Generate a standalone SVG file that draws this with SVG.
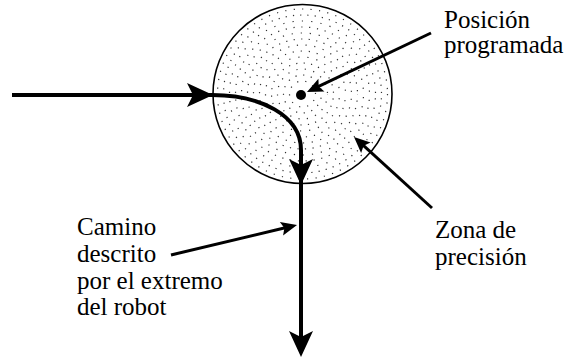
<svg xmlns="http://www.w3.org/2000/svg" width="569" height="359" viewBox="0 0 569 359">
  <defs>
    <marker id="bigArrow" viewBox="-10 -13 30 26" markerWidth="30" markerHeight="26" refX="0" refY="0" orient="auto" markerUnits="userSpaceOnUse">
      <path d="M18,0 L-8,-12 L-2,0 L-8,12 Z" fill="#000"/>
    </marker>
    <marker id="smallArrow" viewBox="-8 -8 20 16" markerWidth="20" markerHeight="16" refX="0" refY="0" orient="auto" markerUnits="userSpaceOnUse">
      <path d="M10,0 L-6,-7 L-3,0 L-6,7 Z" fill="#000"/>
    </marker>
  </defs>

  <g id="zona">
    <circle cx="302.5" cy="94" r="89.5" fill="#fff" stroke="#000" stroke-width="1.6"/>
    <g fill="none" stroke="#333" stroke-width="1.2">
      <circle cx="302.5" cy="94" r="85" stroke-dasharray="1.2 7.3"/>
      <circle cx="302.5" cy="94" r="79" stroke-dasharray="1.2 6.1" stroke-dashoffset="3"/>
      <circle cx="302.5" cy="94" r="73" stroke-dasharray="1.2 8.2" stroke-dashoffset="5"/>
      <circle cx="302.5" cy="94" r="67" stroke-dasharray="1.2 6.7" stroke-dashoffset="2"/>
      <circle cx="302.5" cy="94" r="61" stroke-dasharray="1.2 7.9" stroke-dashoffset="6"/>
      <circle cx="302.5" cy="94" r="55" stroke-dasharray="1.2 6.4" stroke-dashoffset="1"/>
      <circle cx="302.5" cy="94" r="49" stroke-dasharray="1.2 7.6" stroke-dashoffset="4"/>
      <circle cx="302.5" cy="94" r="43" stroke-dasharray="1.2 6.9" stroke-dashoffset="2"/>
      <circle cx="302.5" cy="94" r="37" stroke-dasharray="1.2 8.0" stroke-dashoffset="5"/>
      <circle cx="302.5" cy="94" r="31" stroke-dasharray="1.2 6.3" stroke-dashoffset="3"/>
      <circle cx="302.5" cy="94" r="25" stroke-dasharray="1.2 7.4" stroke-dashoffset="1"/>
      <circle cx="302.5" cy="94" r="19" stroke-dasharray="1.2 6.6" stroke-dashoffset="4"/>
      <circle cx="302.5" cy="94" r="13" stroke-dasharray="1.2 7.0" stroke-dashoffset="2"/>
    </g>
  </g>
  <g id="posicion-punto">
    <circle cx="301" cy="95" r="5" fill="#000"/>
  </g>

  <g id="connectors" fill="none" stroke="#000">
    <g stroke-width="4">
      <path d="M12,95 L195,95" marker-end="url(#bigArrow)"/>
      <path d="M195,95 L212,95 C260,95 301,115 301,150 L301,167" marker-end="url(#bigArrow)"/>
      <path d="M301,165 L301,339" marker-end="url(#bigArrow)"/>
    </g>
    <g stroke-width="3">
      <path d="M431,33 L316,87.7" marker-end="url(#smallArrow)"/>
      <path d="M432,208 L361.4,143.7" marker-end="url(#smallArrow)"/>
      <path d="M171,255 L287.3,227.3" marker-end="url(#smallArrow)"/>
    </g>
  </g>

  <g id="label-posicion" font-size="25">
    <text x="444" y="28" font-family="Liberation Serif">Posición</text>
    <text x="444" y="53" font-family="Liberation Serif">programada</text>
  </g>
  <g id="label-zona" font-size="25">
    <text x="435" y="238" font-family="Liberation Serif">Zona de</text>
    <text x="435" y="265" font-family="Liberation Serif">precisión</text>
  </g>
  <g id="label-camino" font-size="25">
    <text x="77" y="235" font-family="Liberation Serif">Camino</text>
    <text x="77" y="262" font-family="Liberation Serif">descrito</text>
    <text x="77" y="288.5" font-family="Liberation Serif">por el extremo</text>
    <text x="77" y="315" font-family="Liberation Serif">del robot</text>
  </g>
</svg>
